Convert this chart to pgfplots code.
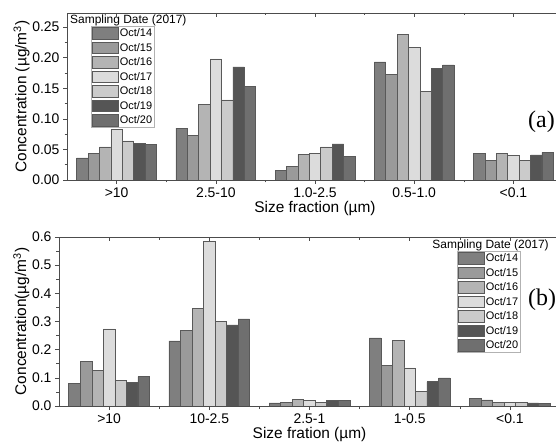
\documentclass[border=0pt]{standalone}
\usepackage{pgfplots}
\pgfplotsset{compat=1.18}
\usepackage{fontspec}
\setmainfont{Liberation Sans}
\newfontfamily\seriffont{Liberation Serif}

\definecolor{cA}{HTML}{7F7F7F}
\definecolor{cB}{HTML}{9A9A9A}
\definecolor{cC}{HTML}{B4B4B4}
\definecolor{cD}{HTML}{DCDCDC}
\definecolor{cE}{HTML}{CBCBCB}
\definecolor{cF}{HTML}{555555}
\definecolor{cG}{HTML}{6F6F6F}

\pgfplotsset{
  panel/.style={
    scale only axis,
    anchor=south west,
    ybar, bar width=0.115,
    xmin=0.5, xmax=5.5, ymin=0,
    xtick={1,2,3,4,5},
    minor xtick={1.5,2.5,3.5,4.5},
    xtick pos=bottom, ytick pos=left,
    tick align=outside,
    major tick length=4bp, minor tick length=2.5bp,
    minor y tick num=1,
    tick style={black!70, line width=0.6bp},
    axis line style={black!70, line width=0.8bp},
    tick label style={font=\fontsize{14}{16}\selectfont},
    label style={font=\fontsize{15.5}{18}\selectfont},
    /pgf/number format/assume math mode=true,
    /pgf/number format/fixed,
    /pgf/number format/fixed zerofill,
    every axis plot/.append style={draw=black!65, line width=0.6bp},
    legend cell align=left,
    legend image code/.code={\draw[##1] (0bp,-5.8bp) rectangle (26bp,5.8bp);},
    legend style={anchor=north west, draw=gray!60, line width=0.5bp,
      font=\fontsize{11}{12}\selectfont, inner sep=1bp, row sep=2.3bp,
      nodes={inner sep=1.2bp}},
  },
  topticks/.style={
    scale only axis, anchor=south west,
    xmin=0.5, xmax=5.5, ymin=0,
    axis x line*=top, axis y line*=right,
    xtick={1,2,3,4,5}, minor xtick={1.5,2.5,3.5,4.5},
    minor y tick num=1,
    xticklabels={}, yticklabels={},
    tick align=inside,
    major tick length=4bp, minor tick length=2.5bp,
    tick style={black!70, line width=0.6bp},
    axis line style={black!70, line width=0.8bp},
  },
}

\begin{document}
\begin{tikzpicture}
% ---------- panel (a)
\begin{axis}[panel,
  at={(67bp,266bp)}, width=496bp, height=167bp,
  ymax=0.273, ytick={0,0.05,...,0.25},
  /pgf/number format/precision=2,
  xticklabels={>10,2.5-10,1.0-2.5,0.5-1.0,<0.1},
  xlabel={Size fraction (\textmu m)},
  ylabel={Concentration (\textmu g/m\textsuperscript{3})},
  xlabel style={yshift=3bp},
  ylabel style={yshift=-4bp},
  legend style={at={(0.048,0.922)}},
]
\addplot[fill=cA, bar shift=-0.345] coordinates {(1,0.036) (2,0.085) (3,0.016) (4,0.193) (5,0.043)};
\addplot[fill=cB, bar shift=-0.230] coordinates {(1,0.043) (2,0.073) (3,0.022) (4,0.172) (5,0.032)};
\addplot[fill=cC, bar shift=-0.115] coordinates {(1,0.054) (2,0.123) (3,0.042) (4,0.238) (5,0.043)};
\addplot[fill=cD, bar shift=0]      coordinates {(1,0.083) (2,0.198) (3,0.043) (4,0.217) (5,0.040)};
\addplot[fill=cE, bar shift=0.115]  coordinates {(1,0.064) (2,0.131) (3,0.054) (4,0.145) (5,0.032)};
\addplot[fill=cF, bar shift=0.230]  coordinates {(1,0.060) (2,0.185) (3,0.059) (4,0.183) (5,0.041)};
\addplot[fill=cG, bar shift=0.345]  coordinates {(1,0.058) (2,0.153) (3,0.038) (4,0.188) (5,0.045)};
\legend{Oct/14,Oct/15,Oct/16,Oct/17,Oct/18,Oct/19,Oct/20}
\node[anchor=west, font=\fontsize{12}{14}\selectfont, inner sep=0pt] at (rel axis cs:0.006,0.958) {Sampling Date (2017)};
\end{axis}
\begin{axis}[topticks, at={(67bp,266bp)}, width=496bp, height=167bp,
  ymax=0.273, ytick={0,0.05,...,0.25}]
\end{axis}
\node[anchor=west, font=\seriffont\fontsize{24}{26}\selectfont, inner sep=0pt] at (528bp,324bp) {(a)};

% ---------- panel (b)
\begin{axis}[panel,
  at={(59bp,40bp)}, width=501bp, height=169bp,
  ymax=0.6, ytick={0,0.1,...,0.6},
  /pgf/number format/precision=1,
  xticklabels={>10,10-2.5,2.5-1,1-0.5,<0.1},
  xlabel={Size fration (\textmu m)},
  ylabel={Concentration(\textmu g/m\textsuperscript{3})},
  xlabel style={yshift=3bp},
  ylabel style={yshift=-4bp},
  legend style={at={(0.794,0.917)}},
]
\addplot[fill=cA, bar shift=-0.345] coordinates {(1,0.080) (2,0.231) (3,0.011) (4,0.242) (5,0.026)};
\addplot[fill=cB, bar shift=-0.230] coordinates {(1,0.157) (2,0.269) (3,0.014) (4,0.145) (5,0.022)};
\addplot[fill=cC, bar shift=-0.115] coordinates {(1,0.125) (2,0.346) (3,0.024) (4,0.234) (5,0.014)};
\addplot[fill=cD, bar shift=0]      coordinates {(1,0.274) (2,0.585) (3,0.020) (4,0.135) (5,0.014)};
\addplot[fill=cE, bar shift=0.115]  coordinates {(1,0.092) (2,0.299) (3,0.014) (4,0.051) (5,0.014)};
\addplot[fill=cF, bar shift=0.230]  coordinates {(1,0.084) (2,0.288) (3,0.021) (4,0.086) (5,0.011)};
\addplot[fill=cG, bar shift=0.345]  coordinates {(1,0.104) (2,0.309) (3,0.021) (4,0.100) (5,0.008)};
\legend{Oct/14,Oct/15,Oct/16,Oct/17,Oct/18,Oct/19,Oct/20}
\node[anchor=west, font=\fontsize{12}{14}\selectfont, inner sep=0pt] at (rel axis cs:0.745,0.953) {Sampling Date (2017)};
\end{axis}
\begin{axis}[topticks, at={(59bp,40bp)}, width=501bp, height=169bp,
  ymax=0.6, ytick={0,0.1,...,0.6}]
\end{axis}
\node[anchor=west, font=\seriffont\fontsize{24}{26}\selectfont, inner sep=0pt] at (528bp,146bp) {(b)};

\pgfresetboundingbox
\useasboundingbox (0,0) rectangle (556bp,446bp);
\end{tikzpicture}
\end{document}
